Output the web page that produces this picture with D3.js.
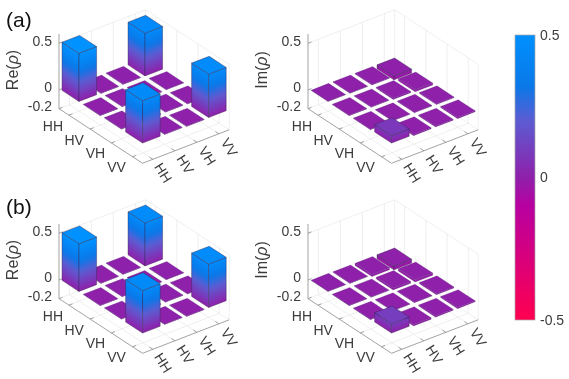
<!DOCTYPE html>
<meta charset="utf-8">
<style>
html, body { margin: 0; background: #fff; }
svg { display: block; filter: blur(0.35px); font-family: "Liberation Sans", sans-serif; }
.tick-text { font-size: 14px; fill: #3c3c3c; }
.title-text { font-size: 16px; fill: #3c3c3c; }
.panel-text { font-size: 21px; fill: #111; }
.grid { stroke: #e8e8e8; stroke-width: 0.7; fill: none; }
.axis-line { stroke: #8c8c8c; stroke-width: 0.8; fill: none; }
</style>
<svg id="chart" width="569" height="379"></svg>
<script src="https://cdn.jsdelivr.net/npm/d3@7"></script>
<script>

var states = ["HH", "HV", "VH", "VV"];
var zTicks = [0.5, 0, -0.2];
var barTicks = [0.5, 0, -0.5];

// rows go HH..VV down the left axis, columns HH..VV up the right axis
var reA = [
  [0.515, -0.006, 0.004, 0.457],
  [-0.004, 0.005, -0.006, 0.004],
  [0.005, -0.005, 0.004, -0.004],
  [0.453, 0.004, -0.006, 0.464]
];
var imA = [
  [0.002, -0.004, -0.006, -0.042],
  [-0.004, -0.005, -0.012, -0.022],
  [-0.005, -0.004, -0.006, -0.01],
  [0.08, -0.012, -0.01, -0.012]
];
var reB = [
  [0.51, -0.005, 0.004, 0.46],
  [-0.004, 0.004, -0.005, 0.004],
  [0.004, -0.005, 0.004, -0.004],
  [0.455, 0.004, -0.005, 0.465]
];
var imB = [
  [0.002, -0.005, -0.022, -0.042],
  [-0.004, -0.005, -0.018, -0.024],
  [-0.005, -0.004, -0.006, -0.012],
  [0.098, -0.016, -0.012, -0.012]
];

var svg = d3.select("#chart");
var defs = svg.append("defs");

var color = d3.scaleLinear()
    .domain([-0.5, -0.1, 0, 0.2, 0.32, 0.5])
    .range(["#ff0050", "#b800a0", "#8f20aa", "#5c5cd2", "#0a78e8", "#0090ff"]);

// oblique projection, one scale per screen direction
var colX = d3.scaleLinear().domain([0, 3]).range([0, 66]);
var colY = d3.scaleLinear().domain([0, 3]).range([0, -25.5]);
var rowX = d3.scaleLinear().domain([0, 3]).range([0, 63.6]);
var rowY = d3.scaleLinear().domain([0, 3]).range([0, 41.6]);
var zY = d3.scaleLinear().domain([0, 0.5]).range([92.5, 45.8]);

function project(c, r, z) {
  return [79.3 + colX(c) + rowX(r), colY(c) + rowY(r) + zY(z)];
}

var lo = -0.47, hi = 3.47, floorZ = -0.2, wallZ = 0.5, half = 0.4;
var gradCount = 0;

function poly(g, pts, fill) {
  return g.append("polygon")
      .attr("points", pts.map(function(p) { return p.join(","); }).join(" "))
      .attr("fill", fill);
}

function line(g, a, b, cls) {
  g.append("line")
      .attr("class", cls)
      .attr("x1", a[0]).attr("y1", a[1])
      .attr("x2", b[0]).attr("y2", b[1]);
}

//side of a bar, gradient runs across the slanted lines of equal z
function side(g, c0, r0, c1, r1, zLow, zHigh, edge) {
  var a = project(c0, r0, zLow), b = project(c1, r1, zLow), up = project(c0, r0, zHigh);
  var ex = b[0] - a[0], ey = b[1] - a[1], len = Math.hypot(ex, ey);
  var nx = -ey / len, ny = ex / len;
  var k = (up[0] - a[0]) * nx + (up[1] - a[1]) * ny;
  var id = "g" + (gradCount++);
  var grad = defs.append("linearGradient")
      .attr("id", id)
      .attr("gradientUnits", "userSpaceOnUse")
      .attr("x1", a[0]).attr("y1", a[1])
      .attr("x2", a[0] + nx * k).attr("y2", a[1] + ny * k);
  d3.range(13).forEach(function(i) {
    grad.append("stop")
        .attr("offset", i / 12)
        .attr("stop-color", color(zLow + (zHigh - zLow) * i / 12));
  });
  poly(g, [a, b, project(c1, r1, zHigh), up], "url(#" + id + ")")
      .attr("stroke", "#33264f")
      .attr("stroke-width", 0.55)
      .attr("stroke-opacity", edge);
}

function drawPanel(dx, dy, values, zName) {
  var g = svg.append("g").attr("transform", "translate(" + dx + "," + dy + ")");

  //walls and floor
  d3.range(4).forEach(function(i) {
    line(g, project(i, lo, floorZ), project(i, lo, wallZ), "grid");
    line(g, project(hi, i, floorZ), project(hi, i, wallZ), "grid");
    line(g, project(i, lo, floorZ), project(i, hi, floorZ), "grid");
    line(g, project(lo, i, floorZ), project(hi, i, floorZ), "grid");
  });
  line(g, project(lo, lo, wallZ), project(hi, lo, wallZ), "grid");
  line(g, project(hi, lo, wallZ), project(hi, hi, wallZ), "grid");
  line(g, project(lo, lo, floorZ), project(hi, lo, floorZ), "grid");
  line(g, project(hi, lo, floorZ), project(hi, hi, floorZ), "grid");
  line(g, project(hi, hi, floorZ), project(hi, hi, wallZ), "grid");
  line(g, project(hi, lo, floorZ), project(hi, lo, wallZ), "grid");

  //axes
  line(g, project(lo, lo, floorZ), project(lo, lo, 0.6), "axis-line");
  line(g, project(lo, lo, floorZ), project(lo, hi, floorZ), "axis-line");
  line(g, project(lo, hi, floorZ), project(hi, hi, floorZ), "axis-line");

  zTicks.forEach(function(z) {
    var p = project(lo, lo, z);
    line(g, p, [p[0] + 3.5, p[1] - 1.4], "axis-line");
    g.append("text")
        .attr("class", "tick-text")
        .attr("x", p[0] - 7)
        .attr("y", p[1] - 2.5)
        .attr("text-anchor", "end")
        .attr("dominant-baseline", "central")
        .text(z);
  });

  states.forEach(function(s, i) {
    var pl = project(lo, i, floorZ);
    var pr = project(i, hi, floorZ);
    line(g, pl, project(lo + 0.16, i, floorZ), "axis-line");
    line(g, pr, project(i, hi - 0.16, floorZ), "axis-line");
    g.append("text")
        .attr("class", "tick-text")
        .attr("x", pl[0] - 16)
        .attr("y", pl[1] + 10.5)
        .attr("text-anchor", "middle")
        .attr("dominant-baseline", "central")
        .text(s);
    g.append("text")
        .attr("class", "tick-text")
        .attr("text-anchor", "middle")
        .attr("dominant-baseline", "central")
        .attr("transform", "translate(" + (pr[0] + 10.5) + "," + (pr[1] + 13.5) + ") rotate(58)")
        .text(s);
  });

  var zLabel = g.append("text")
      .attr("class", "title-text")
      .attr("text-anchor", "middle")
      .attr("transform", "translate(17.5,70) rotate(-90)");
  zLabel.append("tspan").text(zName + "(");
  zLabel.append("tspan").attr("font-style", "italic").text("\u03c1");
  zLabel.append("tspan").text(")");

  //bars, back to front
  var cells = [];
  values.forEach(function(rowValues, r) {
    rowValues.forEach(function(v, c) { cells.push({r: r, c: c, v: v}); });
  });
  cells.sort(function(a, b) { return (a.r - a.c) - (b.r - b.c); });

  cells.forEach(function(d) {
    var top = Math.max(d.v, 0), low = Math.min(d.v, 0);
    var c0 = d.c - half, c1 = d.c + half, r0 = d.r - half, r1 = d.r + half;
    var edge = Math.abs(d.v) > 0.03 ? 0.75 : 0.3;
    side(g, c0, r0, c0, r1, low, top, edge);
    side(g, c0, r1, c1, r1, low, top, edge);
    poly(g, [project(c0, r0, top), project(c1, r0, top), project(c1, r1, top), project(c0, r1, top)], color(top))
        .attr("stroke", "#33264f")
        .attr("stroke-width", 0.55)
        .attr("stroke-opacity", edge);
  });
}

drawPanel(0, 0, reA, "Re");
drawPanel(249, 0, imA, "Im");
drawPanel(0, 190, reB, "Re");
drawPanel(249, 190, imB, "Im");

svg.append("text").attr("class", "panel-text").attr("x", 6).attr("y", 27).text("(a)");
svg.append("text").attr("class", "panel-text").attr("x", 6).attr("y", 214).text("(b)");

//colorbar
var barY = d3.scaleLinear().domain([-0.5, 0.5]).range([320, 35]);

var grad = defs.append("linearGradient")
    .attr("id", "cbar")
    .attr("x1", 0).attr("y1", 1)
    .attr("x2", 0).attr("y2", 0);
color.domain().forEach(function(v) {
  grad.append("stop")
      .attr("offset", (v + 0.5) * 100 + "%")
      .attr("stop-color", color(v));
});

svg.append("rect")
    .attr("x", 515)
    .attr("y", barY(0.5))
    .attr("width", 20)
    .attr("height", barY(-0.5) - barY(0.5))
    .attr("fill", "url(#cbar)")
    .attr("stroke", "#a8a8a8")
    .attr("stroke-width", 0.7);

var barAxis = svg.append("g")
    .attr("transform", "translate(535,0)")
    .call(d3.axisRight(barY).tickValues(barTicks).tickSize(0).tickPadding(5).tickFormat(String));
barAxis.select(".domain").remove();
barAxis.selectAll("text")
    .attr("class", "tick-text")
    .attr("fill", null);

</script>
